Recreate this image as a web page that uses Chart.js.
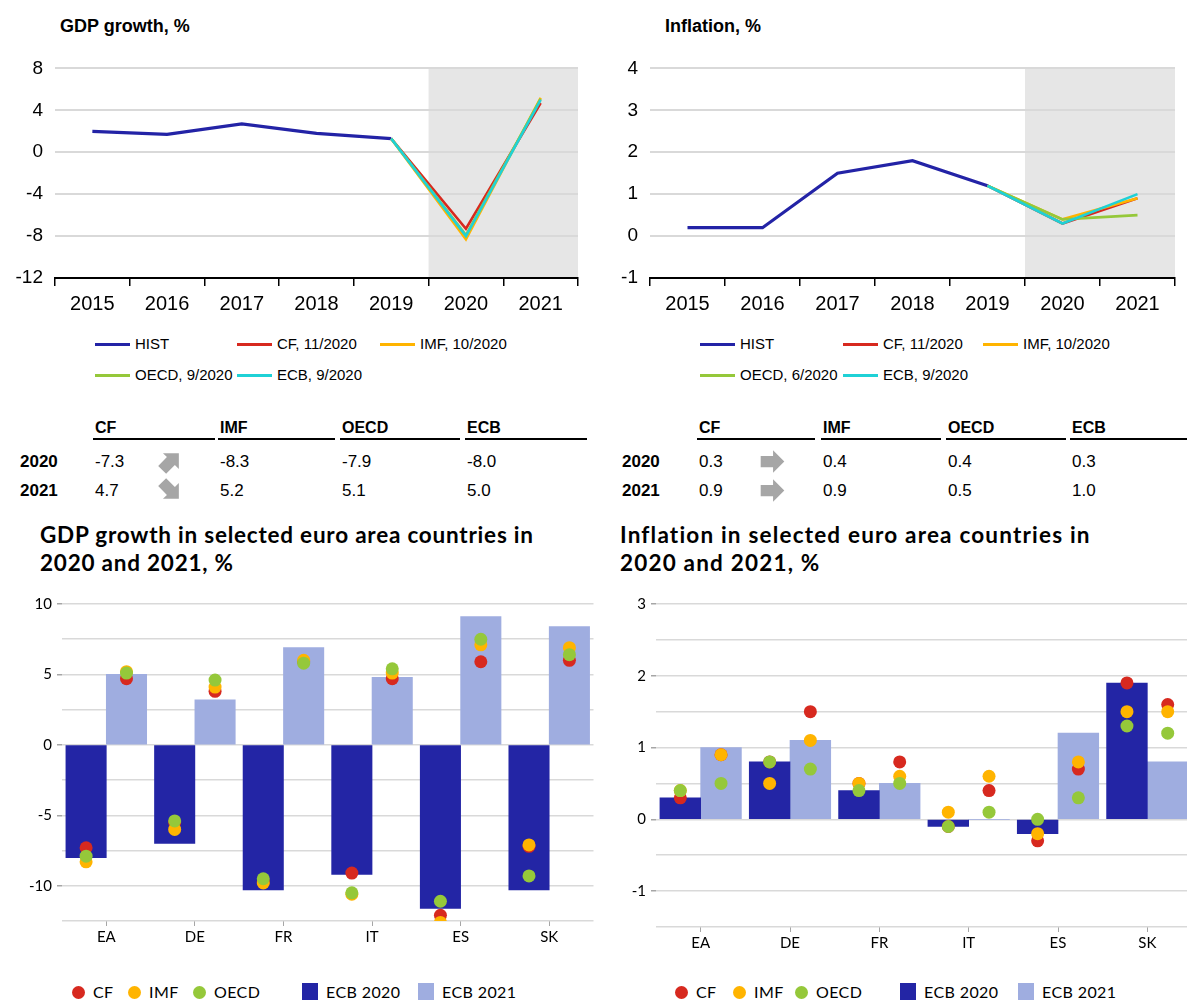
<!DOCTYPE html>
<html>
<head>
<meta charset="utf-8">
<script src="https://cdn.jsdelivr.net/npm/chart.js@4.4.0/dist/chart.umd.min.js"></script>
<style>
  html, body { margin: 0; padding: 0; background: #fff; width: 1187px; height: 1000px; overflow: hidden; }
  .abs { position: absolute; }
  .nar { font-family: "Liberation Sans Narrow", "Liberation Sans", Arial, sans-serif; color: #000; }
  .cal { font-family: Lato, "Open Sans", sans-serif; color: #000; }
  canvas { position: absolute; }
  .lg { position: absolute; font-size: 15px; white-space: nowrap; line-height: 18px; }
  .lg i { display: inline-block; width: 35px; height: 3px; vertical-align: middle; margin-right: 5px; margin-top: -2px; }
  .th { position: absolute; font-weight: bold; font-size: 16px; border-bottom: 2px solid #000; padding-bottom: 1px; }
  .td { position: absolute; font-size: 17px; }
  .yr { position: absolute; font-size: 17px; font-weight: bold; }
  .ttl { position: absolute; font-size: 22.5px; font-weight: bold; line-height: 28px; white-space: nowrap; }
  .ttl span { display: inline-block; }
  .bl { position: absolute; font-size: 16px; letter-spacing: 0.4px; white-space: nowrap; line-height: 18px; }
  .bl b { display: inline-block; vertical-align: middle; margin-right: 8px; margin-top: -2px; }
</style>
</head>
<body>

<div class="abs nar" style="left:60px;top:16px;font-size:18px;font-weight:bold;">GDP growth, %</div>
<div class="abs nar" style="left:665px;top:16px;font-size:18px;font-weight:bold;">Inflation, %</div>

<canvas id="gdpLine" width="580" height="267" style="left:0;top:45px;"></canvas>
<canvas id="infLine" width="582" height="267" style="left:595px;top:45px;"></canvas>

<div id="legends"></div>
<div id="tables"></div>

<div class="ttl cal" style="left:40px;top:521px;"><span id="t1">GDP growth in selected euro area countries in</span><br><span id="t1b">2020 and 2021, %</span></div>
<div class="ttl cal" style="left:620px;top:521px;"><span id="t2">Inflation in selected euro area countries in</span><br><span id="t2b">2020 and 2021, %</span></div>

<canvas id="gdpBars" width="600" height="367" style="left:0;top:590px;"></canvas>
<canvas id="infBars" width="600" height="373" style="left:600px;top:590px;"></canvas>

<div id="barLegends"></div>

<script>
// ---- top charts: history and forecasts ----
const years = ['2015', '2016', '2017', '2018', '2019', '2020', '2021'];

const gdpHist = [2.0, 1.7, 2.7, 1.8, 1.3, null, null];
const gdpCF   = [null, null, null, null, 1.3, -7.3, 4.7];
const gdpIMF  = [null, null, null, null, 1.3, -8.3, 5.2];
const gdpOECD = [null, null, null, null, 1.3, -7.9, 5.1];
const gdpECB  = [null, null, null, null, 1.3, -8.0, 5.0];

const infHist = [0.2, 0.2, 1.5, 1.8, 1.2, null, null];
const infCF   = [null, null, null, null, 1.2, 0.3, 0.9];
const infIMF  = [null, null, null, null, 1.2, 0.4, 0.9];
const infOECD = [null, null, null, null, 1.2, 0.4, 0.5];
const infECB  = [null, null, null, null, 1.2, 0.3, 1.0];

const gdpLegend = ['HIST', 'CF, 11/2020', 'IMF, 10/2020', 'OECD, 9/2020', 'ECB, 9/2020'];
const infLegend = ['HIST', 'CF, 11/2020', 'IMF, 10/2020', 'OECD, 6/2020', 'ECB, 9/2020'];

// ---- bottom charts: countries ----
const countries = ['EA', 'DE', 'FR', 'IT', 'ES', 'SK'];

const gdpEcb20  = [-8.0, -7.0, -10.3, -9.2, -11.6, -10.3];
const gdpEcb21  = [5.0, 3.2, 6.9, 4.8, 9.1, 8.4];
const gdpCf20   = [-7.3, -5.5, -9.7, -9.1, -12.1, -7.2];
const gdpCf21   = [4.7, 3.8, 5.9, 4.7, 5.9, 6.0];
const gdpImf20  = [-8.3, -6.0, -9.8, -10.6, -12.6, -7.1];
const gdpImf21  = [5.2, 4.1, 6.0, 5.1, 7.1, 6.9];
const gdpOecd20 = [-7.9, -5.4, -9.5, -10.5, -11.1, -9.3];
const gdpOecd21 = [5.1, 4.6, 5.8, 5.4, 7.5, 6.4];

const infEcb20  = [0.3, 0.8, 0.4, -0.1, -0.2, 1.9];
const infEcb21  = [1.0, 1.1, 0.5, 0.0, 1.2, 0.8];
const infCf20   = [0.3, 0.8, 0.5, -0.1, -0.3, 1.9];
const infCf21   = [0.9, 1.5, 0.8, 0.4, 0.7, 1.6];
const infImf20  = [0.4, 0.5, 0.5, 0.1, -0.2, 1.5];
const infImf21  = [0.9, 1.1, 0.6, 0.6, 0.8, 1.5];
const infOecd20 = [0.4, 0.8, 0.4, -0.1, 0.0, 1.3];
const infOecd21 = [0.5, 0.7, 0.5, 0.1, 0.3, 1.2];

const C_HIST = '#2323A6', C_CF = '#D7291F', C_IMF = '#FFB400', C_OECD = '#95C83A', C_ECB = '#1FD1D6';
const C_BAR20 = '#2325A5', C_BAR21 = '#9FADE0', C_GRID = '#D9D9D9';
const NARROW = '"Liberation Sans Narrow", "Liberation Sans", Arial, sans-serif';
const CALIB = 'Lato, "Open Sans", sans-serif';

Chart.defaults.animation = false;
Chart.defaults.events = [];

// grey box behind the forecast years
const shade = {
  id: 'shade',
  beforeDraw(chart, args, opts) {
    if (!opts.from) return;
    const x = chart.scales.x, a = chart.chartArea, ctx = chart.ctx;
    const half = (x.getPixelForValue(1) - x.getPixelForValue(0)) / 2;
    const start = x.getPixelForValue(opts.from) - half;
    ctx.save();
    ctx.fillStyle = '#E6E6E6';
    ctx.fillRect(start, a.top, a.right - start, a.bottom - a.top);
    ctx.restore();
  }
};

function lineChart(id, hist, cf, imf, oecd, ecb, min, max, step) {
  const ds = (label, data, color, w, order) => ({
    label, data, borderColor: color, borderWidth: w, pointRadius: 0, order, tension: 0
  });
  new Chart(document.getElementById(id), {
    type: 'line',
    data: {
      labels: years,
      datasets: [
        ds('HIST', hist, C_HIST, 3.2, 5),
        ds('CF', cf, C_CF, 2.6, 4),
        ds('IMF', imf, C_IMF, 2.6, 3),
        ds('OECD', oecd, C_OECD, 2.6, 2),
        ds('ECB', ecb, C_ECB, 2.6, 1)
      ]
    },
    plugins: [shade],
    options: {
      responsive: false,
      layout: { padding: { top: 8, right: 2, left: 0, bottom: 0 } },
      plugins: { legend: { display: false }, tooltip: { enabled: false }, shade: { from: 5 } },
      scales: {
        x: {
          offset: true,
          grid: { offset: true, drawOnChartArea: false, color: '#000', lineWidth: 1.5, tickLength: 8 },
          border: { display: true, color: '#000', width: 2 },
          ticks: { color: '#000', font: { family: NARROW, size: 20 }, padding: 6 },
          afterFit: s => { s.height = 34; }
        },
        y: {
          min, max,
          ticks: { stepSize: step, color: '#000', font: { family: NARROW, size: 19 }, padding: 12 },
          grid: { color: C_GRID, lineWidth: 2, drawTicks: false },
          border: { display: false },
          afterFit: s => { s.width = 55; }
        }
      }
    }
  });
}

lineChart('gdpLine', gdpHist, gdpCF, gdpIMF, gdpOECD, gdpECB, -12, 8, 4);
lineChart('infLine', infHist, infCF, infIMF, infOECD, infECB, -1, 4, 1);

// ---- line legends ----
const lineColors = [C_HIST, C_CF, C_IMF, C_OECD, C_ECB];
function lineLegend(names, pos) {
  let html = '';
  names.forEach((n, i) => {
    html += `<div class="lg nar" style="left:${pos[i][0]}px;top:${pos[i][1]}px;"><i style="background:${lineColors[i]}"></i>${n}</div>`;
  });
  return html;
}
document.getElementById('legends').innerHTML =
  lineLegend(gdpLegend, [[95, 335], [237, 335], [380, 335], [95, 366], [237, 366]]) +
  lineLegend(infLegend, [[700, 335], [843, 335], [983, 335], [700, 366], [843, 366]]);

// ---- forecast tables ----
function arrow(rot) {
  return `<svg width="27" height="27" viewBox="0 0 24 24"><path d="M1.5 7 H12.5 V2 L22.5 12 L12.5 22 V17 H1.5 Z" fill="#A6A6A6" transform="rotate(${rot} 12 12)"/></svg>`;
}
function table(yearX, cols, widths, rows, rots, arrowX) {
  const names = ['CF', 'IMF', 'OECD', 'ECB'];
  let html = '';
  names.forEach((n, i) => {
    html += `<div class="th nar" style="left:${cols[i] - 2}px;top:419px;width:${widths[i]}px;padding-left:2px;">${n}</div>`;
  });
  [['2020', 5, 452], ['2021', 6, 481]].forEach(([yr, idx, top], r) => {
    html += `<div class="yr nar" style="left:${yearX}px;top:${top}px;">${yr}</div>`;
    rows.forEach((s, i) => {
      html += `<div class="td nar" style="left:${cols[i]}px;top:${top}px;">${s[idx].toFixed(1)}</div>`;
    });
    html += `<div class="abs" style="left:${arrowX}px;top:${top - 4}px;">${arrow(rots[r])}</div>`;
  });
  return html;
}
document.getElementById('tables').innerHTML =
  table(20, [95, 220, 342, 467], [120, 115, 118, 120], [gdpCF, gdpIMF, gdpOECD, gdpECB], [-45, 45], 157) +
  table(622, [699, 823, 948, 1072], [116, 118, 118, 115], [infCF, infIMF, infOECD, infECB], [0, 0], 759);

// ---- bar + dot charts (all marks on a hidden linear axis, labels on the category axis) ----
// bars sit side by side, so their width is the gap between the 2020 and 2021 positions
const SHIFT = 0.228;
function xy(v20, v21) {
  return v20.map((v, i) => ({ x: i - SHIFT, y: v })).concat(v21.map((v, i) => ({ x: i + SHIFT, y: v })));
}
function dots(label, v20, v21, color, order) {
  return {
    type: 'line', label, data: xy(v20, v21), xAxisID: 'x2', showLine: false, order, clip: 0,
    pointRadius: 6.5, pointBackgroundColor: color, pointBorderWidth: 0, borderColor: color
  };
}
function bars(label, v, shift, color, order) {
  return {
    label, data: v.map((y, i) => ({ x: i + shift, y })), xAxisID: 'x2', backgroundColor: color,
    grouped: false, categoryPercentage: 1, barPercentage: 1, order
  };
}
function barChart(id, e20, e21, cf20, cf21, imf20, imf21, oe20, oe21, min, max, step, labelStep, yWidth, padRight) {
  const isLabel = v => Math.abs(v / labelStep - Math.round(v / labelStep)) < 1e-6;
  new Chart(document.getElementById(id), {
    type: 'bar',
    data: {
      labels: countries,
      datasets: [
        dots('CF', cf20, cf21, C_CF, 3),
        dots('IMF', imf20, imf21, C_IMF, 2),
        dots('OECD', oe20, oe21, C_OECD, 1),
        bars('ECB 2020', e20, -SHIFT, C_BAR20, 10),
        bars('ECB 2021', e21, SHIFT, C_BAR21, 11)
      ]
    },
    options: {
      responsive: false,
      layout: { padding: { top: 14, right: padRight, left: 0, bottom: 0 } },
      plugins: { legend: { display: false }, tooltip: { enabled: false } },
      scales: {
        x: {
          type: 'category',
          grid: { offset: false, drawOnChartArea: false, color: '#A6A6A6', tickLength: 5 },
          border: { display: false },
          ticks: { color: '#000', font: { family: CALIB, size: 15 }, padding: 2 },
          afterFit: s => { s.height = 36; }
        },
        x2: {
          type: 'linear', min: -0.5, max: countries.length - 0.5, offset: false, display: false,
          grid: { offset: false }
        },
        y: {
          min, max,
          ticks: {
            stepSize: step, color: '#000', font: { family: CALIB, size: 15 }, padding: 5,
            callback: v => isLabel(v) ? v : ''
          },
          grid: {
            color: C_GRID, lineWidth: 1.5, tickLength: 5,
            tickColor: c => isLabel(c.tick.value) ? '#A6A6A6' : 'rgba(0,0,0,0)'
          },
          border: { display: false },
          afterFit: s => { s.width = yWidth; }
        }
      }
    }
  });
}

barChart('gdpBars', gdpEcb20, gdpEcb21, gdpCf20, gdpCf21, gdpImf20, gdpImf21, gdpOecd20, gdpOecd21,
  -12.5, 10, 2.5, 5, 62, 4);
barChart('infBars', infEcb20, infEcb21, infCf20, infCf21, infImf20, infImf21, infOecd20, infOecd21,
  -1.5, 3, 0.5, 1, 56, 8);

// ---- bar legends ----
const barLegendItems = [
  ['CF', C_CF, 'dot'], ['IMF', C_IMF, 'dot'], ['OECD', C_OECD, 'dot'],
  ['ECB 2020', C_BAR20, 'sq'], ['ECB 2021', C_BAR21, 'sq']
];
function barLegend(xs) {
  let html = '';
  barLegendItems.forEach(([n, c, kind], i) => {
    const mark = kind === 'dot'
      ? `<b style="width:13px;height:13px;border-radius:50%;background:${c}"></b>`
      : `<b style="width:16px;height:20px;background:${c}"></b>`;
    html += `<div class="bl cal" style="left:${xs[i]}px;top:983px;">${mark}${n}</div>`;
  });
  return html;
}
document.getElementById('barLegends').innerHTML =
  barLegend([72, 128, 193, 302, 418]) + barLegend([675, 733, 795, 900, 1018]);

// stretch the bottom titles to the width of the original lettering
function fitTitle(firstId, secondId, target) {
  const a = document.getElementById(firstId), b = document.getElementById(secondId);
  const w = a.getBoundingClientRect().width;
  const ls = Math.max(0, (target - w) / (a.textContent.length - 1));
  a.style.letterSpacing = ls + 'px';
  b.style.letterSpacing = ls + 'px';
}
fitTitle('t1', 't1b', 493);
fitTitle('t2', 't2b', 470);
</script>
</body>
</html>
